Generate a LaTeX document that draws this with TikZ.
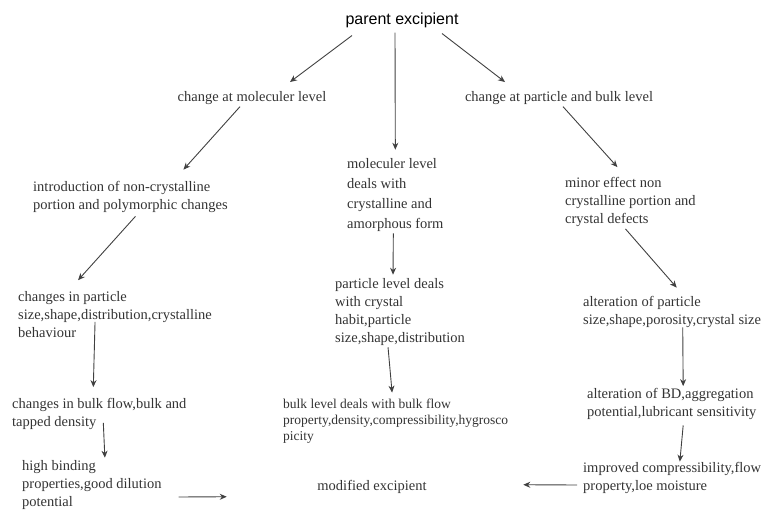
\documentclass[tikz,border=0pt]{standalone}
\usepackage{fontspec}
\setmainfont{Liberation Serif}
\newfontfamily\headfont{Liberation Sans}
\usetikzlibrary{arrows.meta,positioning}

\begin{document}
\begin{tikzpicture}[
    x=1pt, y=-1pt,
    % --- STYLES ---
    head/.style={
        font=\headfont\fontsize{16}{19}\selectfont,
        inner sep=2pt, anchor=base
    },
    txt/.style={
        align=left, anchor=west,
        inner sep=2pt, text=black!80,
        font=\fontsize{14.5}{18}\selectfont
    },
    txtsmall/.style={txt, font=\fontsize{13.5}{16}\selectfont},
    flow/.style={->, >={Stealth[length=7pt,width=6pt]}, line width=0.9pt, draw=black!75}
]
\useasboundingbox (0,0) rectangle (765,510);

% ===== 1. TOP =====
\node[head] (parent) at (402,25) {parent excipient};

\node[txt, anchor=base] (cmol) at (252,101.3) {change at moleculer level};
\node[txt, anchor=base] (cpart) at (559,101.3) {change at particle and bulk level};

% ===== 2. COLUMNS =====
% left column
\node[txt] (intro) at (31,196.5) {introduction of non-crystalline\\portion and polymorphic changes};
\node[txt] (size) at (16,314.5) {changes in particle\\size,shape,distribution,crystalline\\behaviour};
\node[txt] (flowchg) at (10,414) {changes in bulk flow,bulk and\\tapped density};
\node[txt] (binding) at (20,485.5) {high binding\\properties,good dilution\\potential};

% middle column
\node[txt, font=\fontsize{14.5}{20}\selectfont] (mol) at (345,195.5) {moleculer level\\deals with\\crystalline and\\amorphous form};
\node[txt] (part) at (333,312.5) {particle level deals\\with crystal\\habit,particle\\size,shape,distribution};
\node[txtsmall] (bulk) at (281,421) {bulk level deals with bulk flow\\property,density,compressibility,hygrosco\\picity};
\node[txt, anchor=base] (modified) at (372,490.3) {modified excipient};

% right column
\node[txt] (minor) at (563,202) {minor effect non\\crystalline portion and\\crystal defects};
\node[txt] (alter) at (581,311.5) {alteration of particle\\size,shape,porosity,crystal size};
\node[txt] (bd) at (585,404) {alteration of BD,aggregation\\potential,lubricant sensitivity};
\node[txt] (improved) at (581,477.5) {improved compressibility,flow\\property,loe moisture};

% ===== 3. CONNECTIONS =====
\draw[flow] ([xshift=-50pt,yshift=-5pt]parent.south) -- ([xshift=38pt,yshift=7pt]cmol.north);
\draw[flow] ([xshift=40pt,yshift=-3pt]parent.south) -- ([xshift=-54pt,yshift=7pt]cpart.north);
\draw[flow] ([xshift=-7pt,yshift=-2pt]parent.south) -- ([yshift=7pt]mol.north);

% left branch
\draw[flow] ([xshift=-12pt]cmol.south) -- ([xshift=53pt,yshift=9pt]intro.north);
\draw[flow] ([xshift=5pt,yshift=-2pt]intro.south) -- ([xshift=-37pt,yshift=9pt]size.north);
\draw[flow] ([xshift=-20pt,yshift=18pt]size.south) -- ([xshift=-6pt,yshift=9pt]flowchg.north);
\draw[flow] ([xshift=4pt,yshift=9pt]flowchg.south) -- ([xshift=13pt,yshift=1pt]binding.north);

% middle branch
\draw[flow] ([xshift=-2pt,yshift=1pt]mol.south) -- ([xshift=-7pt,yshift=2pt]part.north);
\draw[flow] ([xshift=-12pt,yshift=1pt]part.south) -- ([xshift=-3.6pt,yshift=4pt]bulk.north);

% right branch
\draw[flow] ([xshift=4pt]cpart.south) -- ([xshift=-13pt,yshift=8pt]minor.north);
\draw[flow] ([xshift=-5pt]minor.south) -- ([xshift=4.6pt,yshift=6pt]alter.north);
\draw[flow] ([xshift=10.6pt,yshift=2pt]alter.south) -- ([xshift=11.4pt]bd.north);
\draw[flow] ([xshift=11.4pt,yshift=-3.6pt]bd.south) -- ([xshift=7.7pt,yshift=-2pt]improved.north);

% into the modified excipient
\draw[flow] ([xshift=15pt,yshift=-11.5pt]binding.east) -- ([xshift=-88.5pt,yshift=-10pt]modified.west);
\draw[flow] ([xshift=-4pt,yshift=-7.5pt]improved.west) -- ([xshift=94.5pt,yshift=2pt]modified.east);

\end{tikzpicture}
\end{document}
